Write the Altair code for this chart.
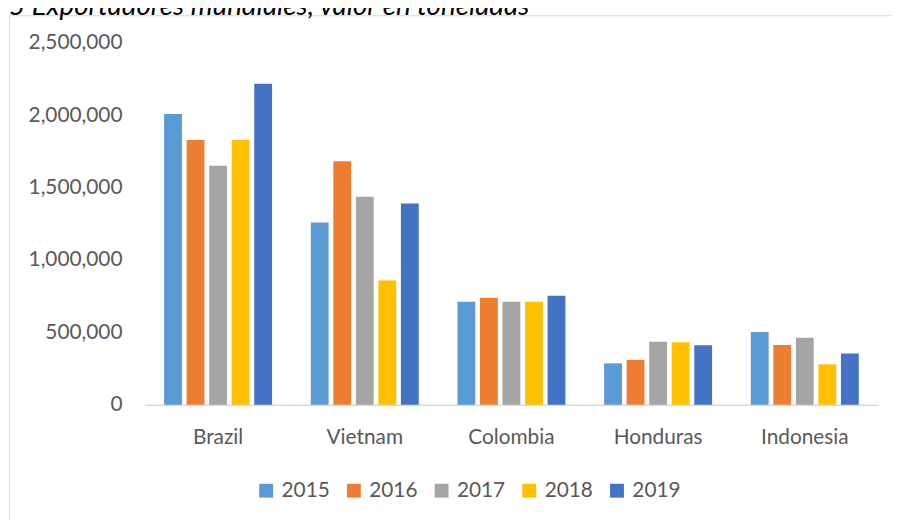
import altair as alt
import pandas as pd

countries = ["Brazil", "Vietnam", "Colombia", "Honduras", "Indonesia"]
years = ["2015", "2016", "2017", "2018", "2019"]
v2015 = [2010000, 1260000, 712000, 286000, 502000]
v2016 = [1829000, 1683000, 740000, 310000, 413000]
v2017 = [1651000, 1438000, 712000, 436000, 463000]
v2018 = [1829000, 858000, 712000, 431000, 279000]
v2019 = [2219000, 1390000, 753000, 411000, 354000]
colors = ["#5B9BD5", "#ED7D31", "#A5A5A5", "#FFC000", "#4472C4"]
y_ticks = [0, 500000, 1000000, 1500000, 2000000, 2500000]
title_text = "5 Exportadores mundiales, valor en toneladas"

rows = []
for yr, vals in zip(years, [v2015, v2016, v2017, v2018, v2019]):
    for c, v in zip(countries, vals):
        rows.append({"country": c, "year": yr, "value": v})
df = pd.DataFrame(rows)

FONT = "Lato"
TXT = "#595959"
PL, PT, PR, PB = 138, 33, 13, 116
W, H = 740, 365

bars = alt.Chart(df).mark_bar().encode(
    x=alt.X("country:N", sort=countries,
            scale=alt.Scale(paddingInner=0.264, paddingOuter=0.132),
            axis=alt.Axis(title=None, labelAngle=0, ticks=False, domainColor="#D9D9D9",
                          domainWidth=1.5, labelFont=FONT, labelFontSize=21,
                          labelColor=TXT, labelPadding=33, labelBaseline="middle",
                          grid=False)),
    xOffset=alt.XOffset("year:N", sort=years,
                        scale=alt.Scale(paddingInner=0.209, paddingOuter=0)),
    y=alt.Y("value:Q", scale=alt.Scale(domain=[0, 2500000], nice=False),
            axis=alt.Axis(title=None, values=y_ticks, format=",.0f", domain=False,
                          ticks=False, grid=False, labelFont=FONT, labelFontSize=21,
                          labelColor=TXT, labelPadding=23)),
    color=alt.Color("year:N", sort=years,
                    scale=alt.Scale(domain=years, range=colors),
                    legend=alt.Legend(title=None, orient="none", direction="horizontal",
                                      legendX=112, legendY=441, symbolType="square",
                                      symbolSize=196, symbolStrokeWidth=0,
                                      labelFont=FONT, labelFontSize=21, labelColor=TXT,
                                      labelOffset=5, columnPadding=13.5)),
)

one = pd.DataFrame({"t": [title_text]})

title = alt.Chart(one).mark_text(
    align="right", baseline="alphabetic", font=FONT, fontSize=28,
    fontStyle="italic", color="#000000"
).encode(x=alt.value(526 - PL), y=alt.value(5 - PT), text="t:N")

frame_left = alt.Chart(one).mark_rule(color="#D9D9D9", strokeWidth=1).encode(
    x=alt.value(1.5 - PL), y=alt.value(5.5 - PT), y2=alt.value(514 - PT))
frame_top = alt.Chart(one).mark_rule(color="#D9D9D9", strokeWidth=1).encode(
    x=alt.value(1.5 - PL), x2=alt.value(891 - PL), y=alt.value(5.5 - PT))

chart = alt.layer(frame_left, frame_top, title, bars).properties(
    width=W, height=H,
    autosize=alt.AutoSizeParams(type="none"),
    padding={"left": PL, "top": PT, "right": PR, "bottom": PB},
).configure_view(stroke=None)

chart.save("out.html", embed_options={"renderer": "svg", "actions": False})
